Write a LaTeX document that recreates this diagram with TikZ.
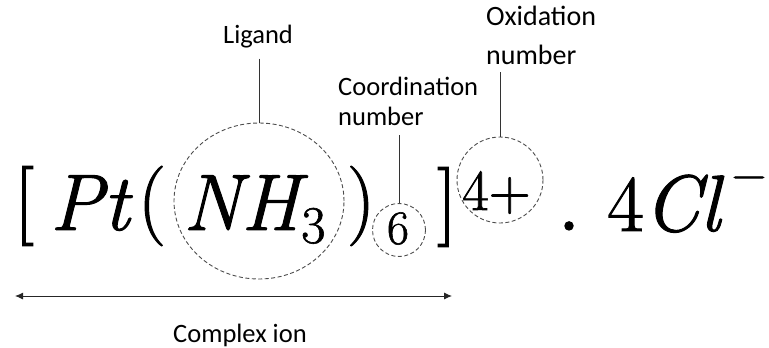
\documentclass[tikz,border=0pt]{standalone}
\usepackage{fontspec}
\newfontfamily\lab{Carlito}
\newfontfamily\fml{Latin Modern Roman}[FakeBold=1.2]
\usetikzlibrary{shapes.geometric,arrows.meta}
\begin{document}
\begin{tikzpicture}[x=1pt,y=-1pt,
  lbl/.style={font=\lab\fontsize{26.5}{30}\selectfont, inner sep=2pt, text=black},
  big/.style={font=\fml\fontsize{80}{80}\selectfont, inner sep=0pt},
  subs/.style={font=\fml\fontsize{53}{53}\selectfont, inner sep=0pt},
  sixs/.style={font=\fml\fontsize{48}{48}\selectfont, inner sep=0pt},
  sups/.style={font=\fml\fontsize{58}{58}\selectfont, inner sep=0pt},
  dcirc/.style={draw=black!70, line width=0.9pt, dash pattern=on 4pt off 2.5pt, inner sep=0pt},
  conn/.style={draw=black!80, line width=0.7pt},
  dim/.style={draw=black!85, line width=0.9pt, {Latex[length=8pt,width=7pt]}-{Latex[length=8pt,width=7pt]}}]
\useasboundingbox (0,0) rectangle (769,348);
% formula
\node[big] (lb) at (24,206) {[};
\node[big, anchor=base west] (pt) at (50,230) {\itshape Pt};
\node[big] (lp) at (152,206) {(};
\node[big, anchor=base west] (nh) at (183,230) {\itshape NH};
\node[subs, anchor=base west] (three) at (301,243) {3};
\node[big] (rp) at (361,206) {)};
\node[sixs, anchor=base] (six) at (398,244) {6};
\node[big] (rb) at (447,207) {]};
\node[sups, anchor=base west] (ox) at (462,210) {4+};
\node[font=\fml\fontsize{100}{100}\selectfont, inner sep=0pt, anchor=base] (dot) at (569,230) {.};
\node[big, anchor=base west] (cl) at (607,231) {4\itshape Cl};
\node[font=\fml\fontsize{48}{48}\selectfont, inner sep=0pt] (minus) at (749,183) {−};
% dashed circles
\node[dcirc, ellipse, minimum width=170, minimum height=156] (ligc) at (259,201) {};
\node[dcirc, circle, minimum size=53] (sixc) at (399,230) {};
\node[dcirc, circle, minimum size=86] (oxc) at (500,180) {};
% labels
\node[lbl] (ligand) at (258,37) {Ligand};
\node[lbl, align=left, anchor=north west] (coord) at (336,75) {Coordination\\number};
\node[font=\lab\fontsize{28}{39}\selectfont, inner sep=2pt, align=left, anchor=north west] (oxn) at (484,4) {Oxidation\\number};
\node[lbl] (cion) at (240,335) {Complex ion};
% connectors
\coordinate (ctop) at (399,135);
\draw[conn] (ligc.north |- ligand.south) ++(0,8) -- (ligc.north);
\draw[conn] (ctop) -- (sixc.north);
\draw[conn] (oxc.north |- oxn.south) ++(0,5) -- (oxc.north);
\coordinate (al) at (15,296);
\coordinate (ar) at (452,296);
\draw[dim] (al) -- (ar);
\end{tikzpicture}
\end{document}
